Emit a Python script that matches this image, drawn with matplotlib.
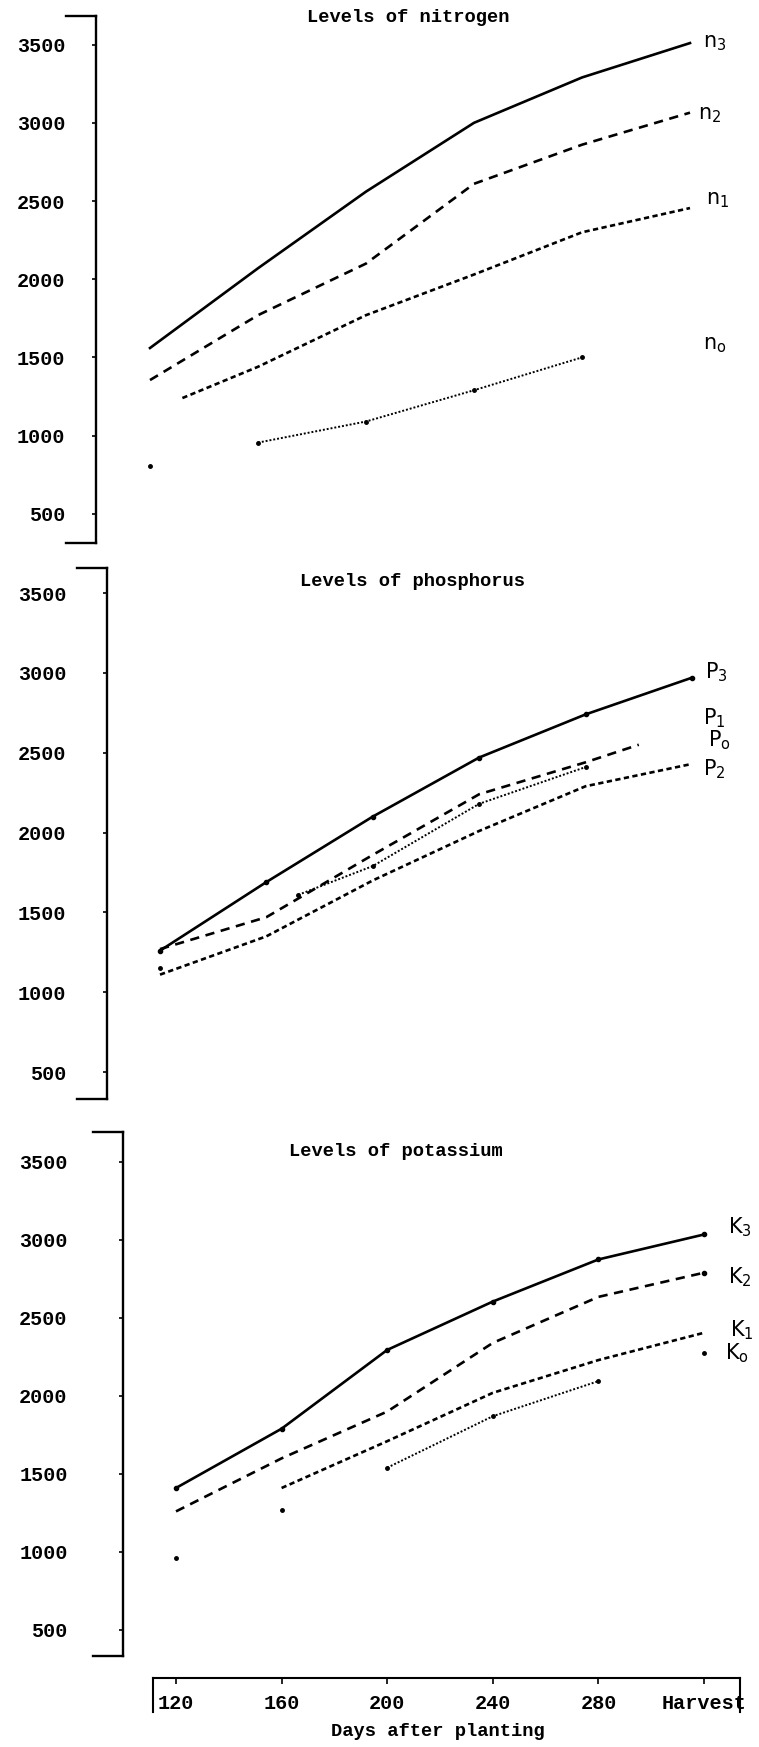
import matplotlib.pyplot as plt

W, H = 759, 1747  # output size in pixels

### Data ###
days = [120, 160, 200, 240, 280, 320]   # 320 stands for harvest
day_labels = ['120', '160', '200', '240', '280', 'Harvest']
yticks = [500, 1000, 1500, 2000, 2500, 3000, 3500]

# nitrogen
n3 = [1560, 2070, 2560, 3000, 3290, 3510]
n2 = [1355, 1770, 2100, 2610, 2860, 3065]
n1_days = [132, 160, 200, 240, 280, 320]
n1 = [1240, 1440, 1770, 2030, 2300, 2455]
n0_days = [120, 160, 200, 240, 280]
n0 = [805, 955, 1090, 1290, 1500]

# phosphorus
p3 = [1260, 1690, 2100, 2470, 2740, 2970]
p1_days = [120, 160, 200, 240, 280, 300]
p1 = [1270, 1470, 1860, 2240, 2440, 2550]
p0_days = [120, 172, 200, 240, 280]
p0 = [1150, 1610, 1790, 2180, 2410]
p2 = [1110, 1350, 1700, 2010, 2290, 2430]

# potassium
k3 = [1410, 1790, 2295, 2605, 2875, 3035]
k2 = [1260, 1600, 1900, 2340, 2635, 2790]
k1_days = [160, 200, 240, 280, 320]
k1 = [1410, 1710, 2020, 2230, 2405]
k0 = [960, 1270, 1540, 1870, 2095, 2275]

mono = 'Liberation Mono'
solid = dict(color='black', lw=1.9, ls='-')
dash_long = dict(color='black', lw=1.9, ls=(0, (3.5, 2.5)))
dash_short = dict(color='black', lw=1.9, ls=(0, (2, 1.3)))
dotted = dict(color='black', lw=1.4, ls=(0, (1, 1)))


def box(left, top, right, bottom):
    # pixel box -> figure fraction [l, b, w, h]
    return [left / W, 1 - bottom / H, (right - left) / W, (bottom - top) / H]


def setup(ax, ylim, pad):
    ax.set_xlim(100, 340)
    ax.set_ylim(*ylim)
    for s in ['top', 'right', 'bottom']:
        ax.spines[s].set_visible(False)
    ax.spines['left'].set_linewidth(1.7)
    ax.set_xticks([])
    ax.set_yticks(yticks)
    ax.set_yticklabels([str(t) for t in yticks], fontfamily=mono,
                       fontweight='bold', fontsize=14.5)
    ax.tick_params(axis='y', direction='out', length=3, width=1.2, pad=pad)
    wpx = ax.get_position().width * W
    for yy in (0, 1):
        ax.plot([-30 / wpx, 0], [yy, yy], color='black', lw=1.7,
                transform=ax.transAxes, clip_on=False)


def label(ax, x, y, name, sub):
    ax.text(x, y, name + r'$_{\mathrm{' + sub + '}}$', fontsize=15,
            ha='left', va='center', family='DejaVu Sans')


def title(x, y, txt):
    fig.text(x / W, 1 - y / H, txt, fontfamily=mono, fontweight='bold',
             fontsize=13.5, ha='center', va='center')


fig = plt.figure(figsize=(W / 100, H / 100), dpi=100)

### Nitrogen ###
ax1 = fig.add_axes(box(96, 15.7, 744, 542.7))
setup(ax1, (315, 3685), 19)
ax1.plot(days, n3, **solid)
ax1.plot(days, n2, **dash_long)
ax1.plot(n1_days, n1, **dash_short)
ax1.plot(n0_days[1:], n0[1:], **dotted)
ax1.plot(n0_days, n0, 'o', color='black', ms=2.5)
label(ax1, 325, 3510, 'n', '3')
label(ax1, 323, 3050, 'n', '2')
label(ax1, 326, 2505, 'n', '1')
label(ax1, 325, 1580, 'n', 'o')
title(408, 18, 'Levels of nitrogen')

### Phosphorus ###
ax2 = fig.add_axes(box(106.8, 568, 745.2, 1099))
setup(ax2, (331, 3657), 26)
ax2.plot(days, p3, marker='o', ms=3, **solid)
ax2.plot(p1_days, p1, **dash_long)
ax2.plot(p0_days[1:], p0[1:], **dotted)
ax2.plot(p0_days, p0, 'o', color='black', ms=2.5)
ax2.plot(days, p2, **dash_short)
label(ax2, 325, 3005, 'P', '3')
label(ax2, 324, 2717, 'P', '1')
label(ax2, 326, 2580, 'P', 'o')
label(ax2, 324, 2397, 'P', '2')
title(412, 582, 'Levels of phosphorus')

### Potassium ###
ax3 = fig.add_axes(box(123.2, 1132, 756.8, 1656))
setup(ax3, (333, 3692), 37)
ax3.plot(days, k3, marker='o', ms=3, **solid)
ax3.plot(days, k2, **dash_long)
ax3.plot(days[-1:], k2[-1:], 'o', color='black', ms=3)
ax3.plot(k1_days, k1, **dash_short)
ax3.plot(days[2:5], k0[2:5], **dotted)
ax3.plot(days, k0, 'o', color='black', ms=2.5)
label(ax3, 329, 3083, 'K', '3')
label(ax3, 329, 2763, 'K', '2')
label(ax3, 330, 2423, 'K', '1')
label(ax3, 328, 2276, 'K', 'o')
title(396, 1152, 'Levels of potassium')

### Shared day axis ###
axx = fig.add_axes(box(153, 1678, 740, 1712))
axx.set_xlim(111.3, 333.6)
axx.set_ylim(0, 1)
axx.set_yticks([])
axx.spines['bottom'].set_visible(False)
for s in ['top', 'left', 'right']:
    axx.spines[s].set_linewidth(1.5)
axx.set_xticks(days)
axx.set_xticklabels(day_labels, fontfamily=mono, fontweight='bold',
                    fontsize=14.5)
axx.tick_params(axis='x', top=True, bottom=False, direction='in', length=4,
                width=1.2, labelbottom=True, pad=-13)
title(438, 1732, 'Days after planting')

plt.savefig('out.png', dpi=100)
